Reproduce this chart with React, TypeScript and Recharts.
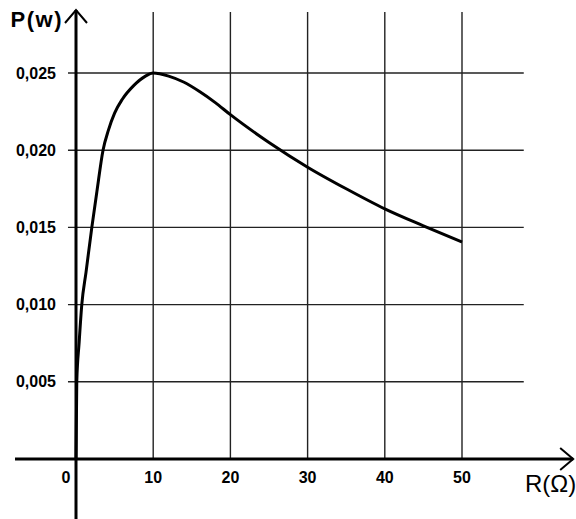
import { LineChart, Line, XAxis, YAxis, ReferenceLine } from "recharts";

// R (ohm) vs P (W)
const resistances = [0, 0.1, 0.4, 0.75, 1.3, 2.05, 2.7, 3.5, 4.2, 5, 6, 7.5, 9, 10, 12, 14, 16, 18, 20, 25, 30, 35, 40, 45, 50];
const powers = [0, 0.005, 0.0075, 0.01, 0.0121, 0.015, 0.0173, 0.02, 0.0213, 0.0224, 0.0233, 0.0242, 0.0248, 0.025, 0.0248, 0.0244, 0.0238, 0.0231, 0.0223, 0.0205, 0.0189, 0.0175, 0.0162, 0.0151, 0.01405];

const xTicks = [0, 10, 20, 30, 40, 50];
const yTicks = [0.005, 0.01, 0.015, 0.02, 0.025];
const yTickLabels = ["0,005", "0,010", "0,015", "0,020", "0,025"];

const X_DOMAIN = [-9.845, 64.767];
const Y_DOMAIN = [-0.003886, 0.029728];
const X_AXIS_END = [-7.9, 64.4];
const Y_AXIS_END = [-0.003886, 0.02908];
const GRID_TOP = 0.02895;
const GRID_X_RANGE = [-1.04, 58];

const data = resistances.map((r, i) => ({ r, p: powers[i] }));

const FONT = "'Liberation Sans', Arial, sans-serif";
const tickFont = { fontSize: 16, fontWeight: "bold", fill: "#000", fontFamily: FONT };

const arrowLine = (p: any) => (
  <line x1={p.x1} y1={p.y1} x2={p.x2} y2={p.y2} stroke="#000" strokeWidth={3} markerEnd="url(#arrowHead)" />
);

export default function App() {
  return (
    <div style={{ position: "absolute", left: 0, top: 0, background: "#fff" }}>
      <LineChart width={576} height={519} data={data} margin={{ top: 0, right: 0, bottom: 0, left: 0 }}>
        <defs>
          <marker id="arrowHead" markerUnits="userSpaceOnUse" markerWidth={16} markerHeight={26} refX={14} refY={13} orient="auto">
            <path d="M1,2 L14,13 L1,24" fill="none" stroke="#000" strokeWidth={2} />
          </marker>
        </defs>
        <XAxis type="number" dataKey="r" domain={X_DOMAIN} hide allowDataOverflow />
        <YAxis type="number" domain={Y_DOMAIN} hide allowDataOverflow />

        {yTicks.map((y, i) => (
          <ReferenceLine
            key={"h" + y}
            segment={[{ x: GRID_X_RANGE[0], y }, { x: GRID_X_RANGE[1], y }]}
            stroke="#222"
            strokeWidth={1.4}
            ifOverflow="visible"
            label={{ value: yTickLabels[i], position: "left", offset: 12, ...tickFont }}
          />
        ))}
        {xTicks.map((x) => (
          <ReferenceLine
            key={"v" + x}
            segment={[{ x, y: 0 }, { x, y: x === 0 ? 0 : GRID_TOP }]}
            stroke={x === 0 ? "none" : "#222"}
            strokeWidth={1.4}
            ifOverflow="visible"
            label={{ value: String(x), position: "bottom", offset: 13, dx: x === 0 ? -10 : 0, ...tickFont }}
          />
        ))}

        <ReferenceLine
          segment={[{ x: X_AXIS_END[0], y: 0 }, { x: X_AXIS_END[1], y: 0 }]}
          ifOverflow="visible"
          shape={arrowLine}
          label={{
            content: (props: any) => (
              <text x={props.viewBox.x + props.viewBox.width + 3} y={props.viewBox.y + 33} textAnchor="end" fontSize={24} fontFamily={FONT} fill="#000">
                R(Ω)
              </text>
            ),
          }}
        />
        <ReferenceLine
          segment={[{ x: 0, y: Y_AXIS_END[0] }, { x: 0, y: Y_AXIS_END[1] }]}
          ifOverflow="visible"
          shape={arrowLine}
          label={{
            content: (props: any) => (
              <text x={props.viewBox.x - 13} y={props.viewBox.y + 17} textAnchor="end" fontSize={22} fontWeight="bold" letterSpacing={1.5} fontFamily={FONT} fill="#000">
                P(w)
              </text>
            ),
          }}
        />

        <Line type="monotone" dataKey="p" stroke="#000" strokeWidth={3} dot={false} activeDot={false} isAnimationActive={false} />
      </LineChart>
    </div>
  );
}
